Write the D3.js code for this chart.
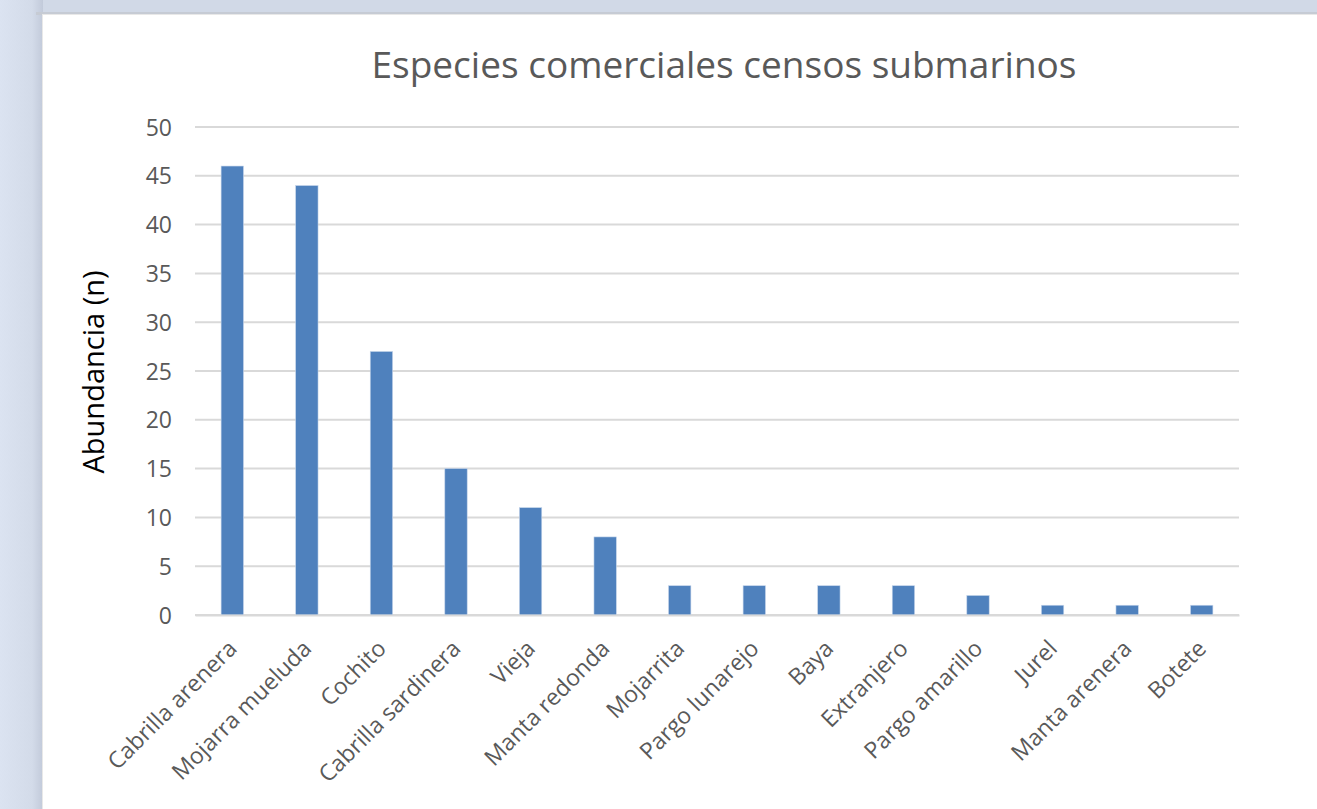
<!DOCTYPE html>
<html>
<head>
<meta charset="utf-8">
<script src="https://cdn.jsdelivr.net/npm/d3@7"></script>
<style>
  body { margin: 0; background: #d6deec; overflow: hidden; }
  svg { display: block; }
</style>
</head>
<body>
<div id="chart"></div>
<script>
// chart data
var species = ["Cabrilla arenera", "Mojarra mueluda", "Cochito", "Cabrilla sardinera", "Vieja",
  "Manta redonda", "Mojarrita", "Pargo lunarejo", "Baya", "Extranjero", "Pargo amarillo",
  "Jurel", "Manta arenera", "Botete"];
var abundance = [46, 44, 27, 15, 11, 8, 3, 3, 3, 3, 2, 1, 1, 1];
var yTicks = [0, 5, 10, 15, 20, 25, 30, 35, 40, 45, 50];

var W = 1317, H = 809;
var margin = {top: 127, right: 78, bottom: 194, left: 195},
    width = W - margin.left - margin.right,
    height = H - margin.top - margin.bottom;

var svg = d3.select("#chart").append("svg")
  .attr("width", W)
  .attr("height", H);

// window background / frame
var defs = svg.append("defs");
var lg = defs.append("linearGradient").attr("id", "side").attr("x1", 0).attr("x2", 1);
lg.append("stop").attr("offset", "0%").attr("stop-color", "#dbe3f1");
lg.append("stop").attr("offset", "75%").attr("stop-color", "#d3dbe9");
lg.append("stop").attr("offset", "100%").attr("stop-color", "#c2cada");

svg.append("rect").attr("width", W).attr("height", H).attr("fill", "#d1d9e7");
svg.append("rect").attr("x", 0).attr("y", 0).attr("width", 43).attr("height", H).attr("fill", "url(#side)");
svg.append("rect").attr("x", 36).attr("y", 12).attr("width", W - 36).attr("height", 3).attr("fill", "#c6cbd4");
svg.append("rect").attr("x", 42).attr("y", 14).attr("width", W - 42).attr("height", H - 14).attr("fill", "#e8e8e8");
svg.append("rect").attr("x", 43).attr("y", 15).attr("width", W - 43).attr("height", H - 15).attr("fill", "#ffffff");

var g = svg.append("g")
  .attr("transform", "translate(" + margin.left + "," + margin.top + ")");

var x = d3.scaleBand()
  .domain(species)
  .range([0, width])
  .paddingInner(0.7)
  .paddingOuter(0.35);

var y = d3.scaleLinear()
  .domain([0, 50])
  .range([height, 0]);

// gridlines
g.append("g")
  .attr("class", "grid")
  .selectAll("line")
  .data(yTicks)
  .enter().append("line")
    .attr("x1", 0)
    .attr("x2", width)
    .attr("y1", d => y(d))
    .attr("y2", d => y(d))
    .attr("stroke", "#d9d9d9")
    .attr("stroke-width", 2);

// y axis labels
var yAxis = g.append("g")
  .call(d3.axisLeft(y).tickValues(yTicks).tickSize(0).tickPadding(23));
yAxis.select(".domain").remove();
yAxis.selectAll("text")
  .attr("fill", "#595959")
  .style("font-family", "'Open Sans', sans-serif")
  .style("font-size", "23px")
  .attr("dy", "0.35em");

// bars
g.selectAll(".bar")
  .data(abundance)
  .enter().append("rect")
    .attr("class", "bar")
    .attr("x", (d, i) => x(species[i]))
    .attr("y", d => y(d))
    .attr("width", x.bandwidth())
    .attr("height", d => y(0) - y(d))
    .attr("fill", "#4f81bd")
    .attr("stroke", "#c5d5ea")
    .attr("stroke-width", 0.6);

// x axis line + labels
var xAxis = g.append("g")
  .attr("transform", "translate(0," + height + ")")
  .call(d3.axisBottom(x).tickSize(0).tickPadding(0));
xAxis.select(".domain").attr("stroke", "#d9d9d9").attr("stroke-width", 2);
xAxis.selectAll("text")
  .attr("fill", "#595959")
  .style("font-family", "'Open Sans', sans-serif")
  .style("font-size", "23px")
  .style("text-anchor", "end")
  .attr("dy", null)
  .attr("y", 0)
  .attr("transform", "translate(6,35)rotate(-45)");

// title
svg.append("text")
  .attr("x", 724)
  .attr("y", 78)
  .attr("text-anchor", "middle")
  .attr("fill", "#595959")
  .style("font-family", "'Open Sans', sans-serif")
  .style("font-size", "37px")
  .text("Especies comerciales censos submarinos");

// y axis title
svg.append("text")
  .attr("transform", "translate(104,372)rotate(-90)")
  .attr("text-anchor", "middle")
  .attr("fill", "#000")
  .style("font-family", "'Open Sans', sans-serif")
  .style("font-size", "29px")
  .text("Abundancia (n)");
</script>
</body>
</html>
